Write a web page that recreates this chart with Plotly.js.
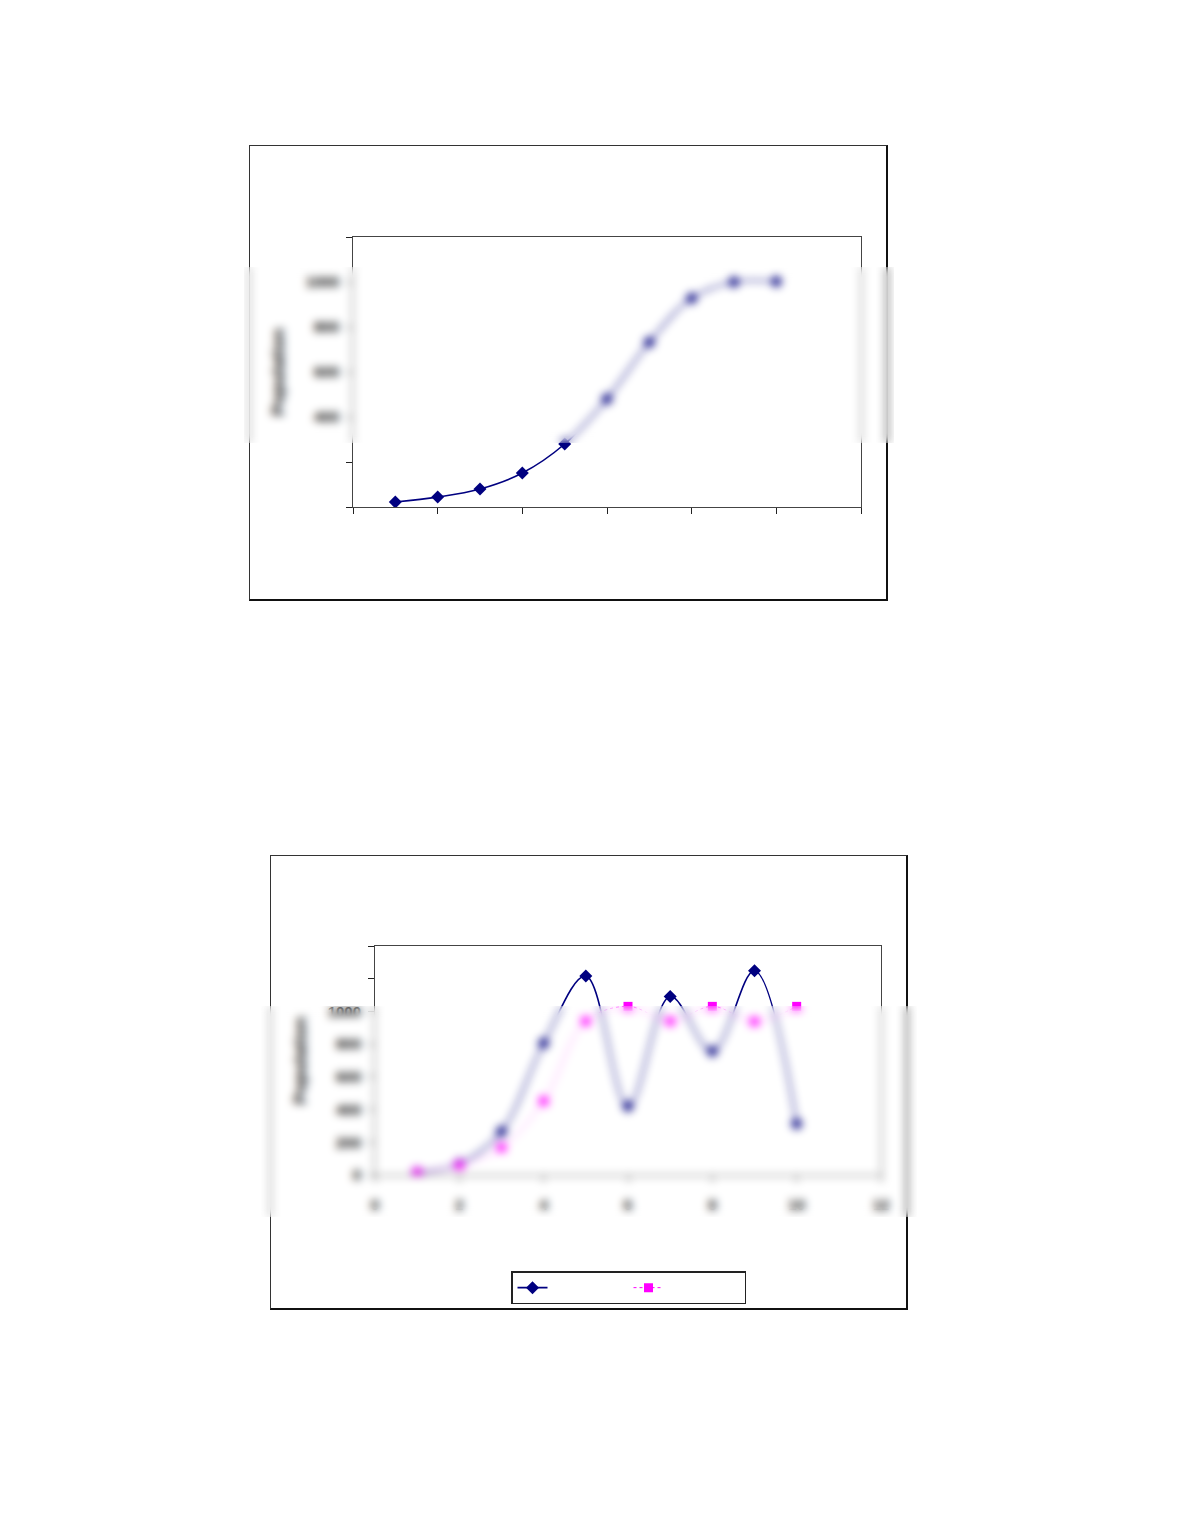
<!DOCTYPE html>
<html>
<head>
<meta charset="utf-8">
<script src="https://cdn.plot.ly/plotly-3.0.1.min.js"></script>
<style>
  html, body { margin: 0; padding: 0; background: #fff; }
  body { width: 1180px; height: 1527px; position: relative; overflow: hidden; }
  .frame { position: absolute; box-sizing: border-box; border: 1px solid #333; border-right: 2px solid #111; border-bottom: 2px solid #111; }
  .plot { position: absolute; }
  .band { position: absolute; z-index: 10; backdrop-filter: blur(4px); -webkit-backdrop-filter: blur(4px); background: rgba(255,255,255,0.06); }
</style>
</head>
<body>
<div class="frame" style="left:249px; top:145px; width:639px; height:456px;"></div>
<div id="chart1" class="plot" style="left:249px; top:145px; width:638px; height:455px;"></div>
<div class="band" style="left:244px; top:267px; width:650px; height:176px;"></div>

<div class="frame" style="left:270px; top:855px; width:638px; height:455px;"></div>
<div id="chart2" class="plot" style="left:270px; top:855px; width:637px; height:454px;"></div>
<div class="band" style="left:261px; top:1006px; width:656px; height:211px;"></div>

<script>
// ---- data ----
const generations = [1, 2, 3, 4, 5, 6, 7, 8, 9, 10];
const logisticPopulation = [22, 44, 80, 151, 280, 480, 732, 928, 1000, 1002];
const oscillatingPopulation = [16, 68, 266, 805, 1216, 420, 1091, 756, 1249, 313];
const dampedPopulation = [16, 60, 168, 452, 940, 1031, 940, 1031, 938, 1031];

const xTickVals = [0, 2, 4, 6, 8, 10, 12];
const xTickText1 = ['', '', '', '', '', '', ''];
const xTickText2 = ['0', '2', '4', '6', '8', '10', '12'];
const yTickVals1 = [0, 200, 400, 600, 800, 1000, 1200];
const yTickText1 = ['', '', '400', '600', '800', '1000', ''];
const yTickVals2 = [0, 200, 400, 600, 800, 1000, 1200, 1400];
const yTickText2 = ['0', '200', '400', '600', '800', '1000', '', ''];
const yTitle = 'Population';

const NAVY = '#000080';
const MAGENTA = '#ff00ff';
const FONT = '"Liberation Sans", Arial, sans-serif';

function xAxis(ticktext) {
  return {
    range: [0, 12], tickmode: 'array', tickvals: xTickVals, ticktext: ticktext,
    ticks: 'outside', ticklen: 6, tickcolor: '#222', tickwidth: 1,
    showline: true, linecolor: '#444', linewidth: 1, mirror: true,
    showgrid: false, zeroline: false, ticklabelstandoff: 10, automargin: false,
    tickfont: { family: FONT, size: 15, color: '#000', weight: 'bold' }
  };
}
function yAxis(range, vals, text) {
  return {
    range: range, tickmode: 'array', tickvals: vals, ticktext: text,
    ticks: 'outside', ticklen: 6, tickcolor: '#222', tickwidth: 1,
    showline: true, linecolor: '#444', linewidth: 1, mirror: true,
    showgrid: false, zeroline: false, ticklabelstandoff: 4, automargin: false,
    tickfont: { family: FONT, size: 15, color: '#000', weight: 'bold' },
    title: { text: yTitle, font: { family: FONT, size: 17, color: '#000', weight: 'bold' }, standoff: 16 }
  };
}

const config = { staticPlot: true, displayModeBar: false };

Plotly.newPlot('chart1', [{
  x: generations, y: logisticPopulation, type: 'scatter', mode: 'lines+markers',
  line: { color: NAVY, width: 1.6, shape: 'spline', smoothing: 1 },
  marker: { symbol: 'diamond', size: 10, color: NAVY },
  showlegend: false
}], {
  width: 638, height: 455,
  margin: { l: 104, r: 26, t: 92, b: 93, autoexpand: false },
  paper_bgcolor: 'rgba(0,0,0,0)', plot_bgcolor: 'rgba(0,0,0,0)',
  xaxis: xAxis(xTickText1),
  yaxis: yAxis([0, 1200], yTickVals1, yTickText1),
  showlegend: false
}, config);

Plotly.newPlot('chart2', [{
  x: generations, y: oscillatingPopulation, type: 'scatter', mode: 'lines+markers', name: '',
  line: { color: NAVY, width: 1.6, shape: 'spline', smoothing: 1 },
  marker: { symbol: 'diamond', size: 10, color: NAVY }
}, {
  x: generations, y: dampedPopulation, type: 'scatter', mode: 'lines+markers', name: '',
  line: { color: MAGENTA, width: 1, dash: '3px,3px', shape: 'spline', smoothing: 1 },
  marker: { symbol: 'square', size: 9, color: MAGENTA }
}], {
  width: 637, height: 454,
  margin: { l: 105, r: 26, t: 91, b: 134, autoexpand: false },
  paper_bgcolor: 'rgba(0,0,0,0)', plot_bgcolor: 'rgba(0,0,0,0)',
  xaxis: xAxis(xTickText2),
  yaxis: yAxis([0, 1400], yTickVals2, yTickText2),
  showlegend: true,
  legend: {
    orientation: 'h', x: 0.501, xanchor: 'center', y: -0.42, yanchor: 'top',
    bordercolor: '#222', borderwidth: 1.5, bgcolor: '#fff',
    entrywidth: 71, entrywidthmode: 'pixels',
    font: { family: FONT, size: 13 }
  }
}, config);
</script>
</body>
</html>
